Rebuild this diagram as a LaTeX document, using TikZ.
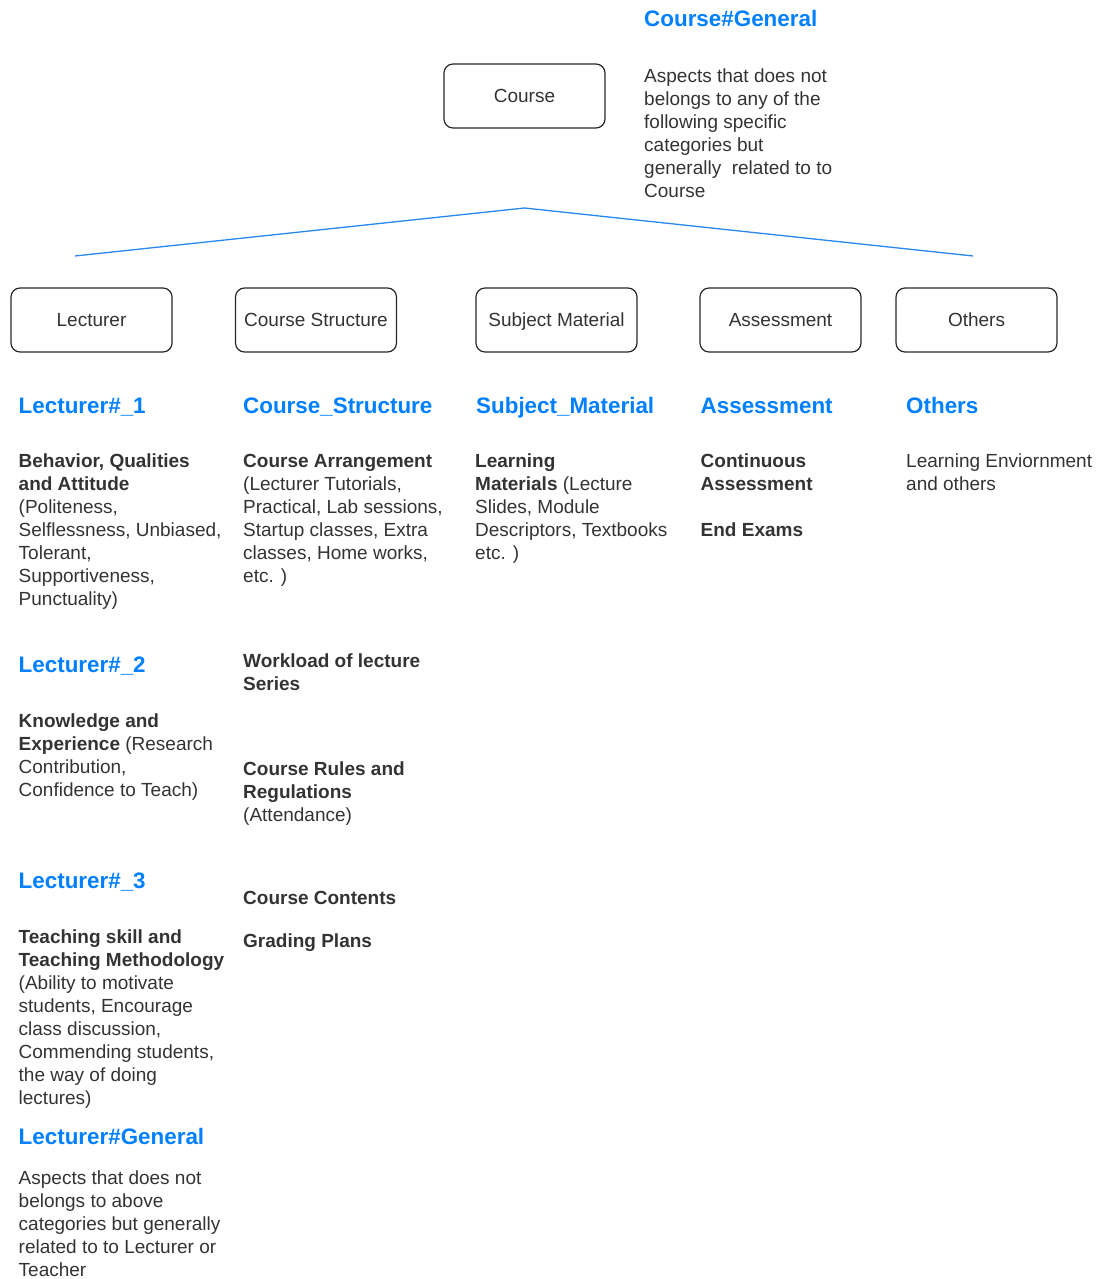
\documentclass[tikz,border=0pt]{standalone}
\usepackage{fontspec}
\setmainfont{Liberation Sans}
\definecolor{txtgray}{RGB}{51,51,51}
\definecolor{ttlblue}{RGB}{0,127,255}
\definecolor{boxline}{RGB}{40,40,40}
\definecolor{linkblue}{RGB}{40,135,235}
\newcommand\txtline[1]{\hbox{#1}}
\tikzset{
  catbox/.style={draw=boxline, line width=1.2pt, rounded corners=9pt,
    minimum width=161pt, minimum height=64pt, inner sep=0pt,
    text=txtgray, font=\fontsize{19pt}{23pt}\selectfont,
    text height=13.7pt, text depth=0pt},
  ttlstyle/.style={anchor=base west, inner sep=0pt, text=ttlblue,
    font=\fontsize{22.4pt}{26pt}\selectfont\bfseries},
  bodytxt/.style={anchor=base west, inner sep=0pt, text=txtgray,
    font=\fontsize{19pt}{23pt}\selectfont},
  linkline/.style={draw=linkblue, line width=1.3pt}
}
\begin{document}
\begin{tikzpicture}[x=1pt,y=-1pt]
\useasboundingbox (0,0) rectangle (1099,1279);

% boxes
\node[catbox] (course) at (524.5,96) {Course};
\node[catbox] (lect) at (91.5,320) {Lecturer};
\node[catbox] (cstruct) at (316,320) {Course Structure};
\node[catbox] (subj) at (556.5,320) {Subject Material};
\node[catbox] (assess) at (780.5,320) {Assessment};
\node[catbox] (others) at (976.5,320) {Others};

% connector
\coordinate (apex) at (524.5,208);
\coordinate (lend) at (75,256);
\coordinate (rend) at (973,256);
\draw[linkline] (lend) -- (apex) -- (rend);

% Course general
\node[ttlstyle] (cgt) at (644,27) {Course\#General};
\node[bodytxt] (cgb) at (644,83) {\vtop{%
  \txtline{Aspects that does not}
  \txtline{belongs to any of the}
  \txtline{following specific}
  \txtline{categories but}
  \txtline{generally\ \ related to to}
  \txtline{Course}}};

% Column 1: Lecturer
\node[ttlstyle] (l1t) at (18.5,413) {Lecturer\#\_1};
\node[bodytxt] (l1b) at (18.5,467) {\vtop{%
  \txtline{\textbf{Behavior, Qualities}}
  \txtline{\textbf{and Attitude}}
  \txtline{(Politeness,}
  \txtline{Selflessness, Unbiased,}
  \txtline{Tolerant,}
  \txtline{Supportiveness,}
  \txtline{Punctuality)}}};

\node[ttlstyle] (l2t) at (18.5,672) {Lecturer\#\_2};
\node[bodytxt] (l2b) at (18.5,727) {\vtop{%
  \txtline{\textbf{Knowledge and}}
  \txtline{\textbf{Experience} (Research}
  \txtline{Contribution,}
  \txtline{Confidence to Teach)}}};

\node[ttlstyle] (l3t) at (18.5,888) {Lecturer\#\_3};
\node[bodytxt] (l3b) at (18.5,943) {\vtop{%
  \txtline{\textbf{Teaching skill and}}
  \txtline{\textbf{Teaching Methodology}}
  \txtline{(Ability to motivate}
  \txtline{students, Encourage}
  \txtline{class discussion,}
  \txtline{Commending students,}
  \txtline{the way of doing}
  \txtline{lectures)}}};

\node[ttlstyle] (lgt) at (18.5,1144) {Lecturer\#General};
\node[bodytxt] (lgb) at (18.5,1184) {\vtop{%
  \txtline{Aspects that does not}
  \txtline{belongs to above}
  \txtline{categories but generally}
  \txtline{related to to Lecturer or}
  \txtline{Teacher}}};

% Column 2: Course Structure
\node[ttlstyle] (cst) at (243,413) {Course\_Structure};
\node[bodytxt] (csb1) at (243,467) {\vtop{%
  \txtline{\textbf{Course Arrangement}}
  \txtline{(Lecturer Tutorials,}
  \txtline{Practical, Lab sessions,}
  \txtline{Startup classes, Extra}
  \txtline{classes, Home works,}
  \txtline{etc. )}}};
\node[bodytxt] (csb2) at (243,667) {\vtop{%
  \txtline{\textbf{Workload of lecture}}
  \txtline{\textbf{Series}}}};
\node[bodytxt] (csb3) at (243,775) {\vtop{%
  \txtline{\textbf{Course Rules and}}
  \txtline{\textbf{Regulations}}
  \txtline{(Attendance)}}};
\node[bodytxt] (csb4) at (243,904) {\textbf{Course Contents}};
\node[bodytxt] (csb5) at (243,947) {\textbf{Grading Plans}};

% Column 3: Subject Material
\node[ttlstyle] (smt) at (476,413) {Subject\_Material};
\node[bodytxt] (smb) at (475,467) {\vtop{%
  \txtline{\textbf{Learning}}
  \txtline{\textbf{Materials} (Lecture}
  \txtline{Slides, Module}
  \txtline{Descriptors, Textbooks}
  \txtline{etc. )}}};

% Column 4: Assessment
\node[ttlstyle] (ast) at (700.5,413) {Assessment};
\node[bodytxt] (asb1) at (700.5,467) {\vtop{%
  \txtline{\textbf{Continuous}}
  \txtline{\textbf{Assessment}}}};
\node[bodytxt] (asb2) at (700.5,536) {\textbf{End Exams}};

% Column 5: Others
\node[ttlstyle] (ot) at (906,413) {Others};
\node[bodytxt] (ob) at (906,467) {\vtop{%
  \txtline{Learning Enviornment}
  \txtline{and others}}};
\end{tikzpicture}
\end{document}
